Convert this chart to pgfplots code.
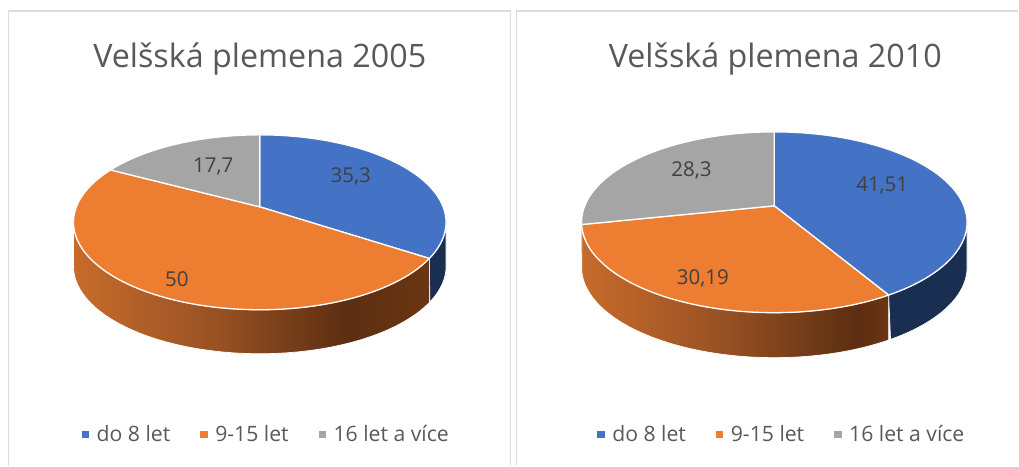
\documentclass[border=0pt]{standalone}
\usepackage{pgfplots}
\pgfplotsset{compat=1.18}
\usepackage{fontspec}
\setmainfont{Open Sans}
\definecolor{cblue}{HTML}{4472C4}
\definecolor{corange}{HTML}{ED7D31}
\definecolor{cgray}{HTML}{A5A5A5}
\definecolor{cnavy}{HTML}{1A2E52}
\definecolor{ctxt}{HTML}{595959}
\definecolor{cdark}{HTML}{404040}
\definecolor{cframe}{HTML}{DCDCDC}
\pgfdeclarehorizontalshading{wallL}{100bp}{
  rgb(0bp)=(0.78,0.42,0.17);
  rgb(25bp)=(0.78,0.42,0.17);
  rgb(45bp)=(0.60,0.32,0.14);
  rgb(63.5bp)=(0.36,0.18,0.07);
  rgb(75bp)=(0.42,0.21,0.07);
  rgb(100bp)=(0.42,0.21,0.07)}
\pgfdeclarehorizontalshading{wallR}{100bp}{
  rgb(0bp)=(0.78,0.42,0.17);
  rgb(25bp)=(0.78,0.42,0.17);
  rgb(47.5bp)=(0.60,0.32,0.14);
  rgb(70bp)=(0.36,0.18,0.07);
  rgb(75bp)=(0.42,0.21,0.07);
  rgb(100bp)=(0.42,0.21,0.07)}
% projection of a unit circle, angle clockwise from the top
\newcommand{\PX}[1]{\cx+\pa*sin(#1)/(1+\pk*cos(#1))}
\newcommand{\PY}[1]{\cy-\pb*cos(#1)/(1+\pk*cos(#1))}
\newcommand{\sector}[3]{%
  \addplot[forget plot,draw=white,line width=1.3pt,line join=round,fill=#3,domain=#1:#2,samples=80]
    ({\PX{x}},{\PY{x}}) -- (axis cs:\cx,\cy) -- cycle;}
\newcommand{\WT}[2]{((x<1)?(#1+(#2-#1)*x):(#2-(#2-#1)*(x-1)))}
\newcommand{\wall}[3]{%
  \addplot[forget plot,draw=white,line width=0.7pt,line join=round,#3,domain=0:2,samples=161]
    ({\PX{\WT{#1}{#2}}},{\PY{\WT{#1}{#2}}+((x<1)?\pd:0)}) -- cycle;}
\pgfplotsset{
  panel/.style={
    scale only axis,height=466pt,axis lines=none,
    y dir=reverse,ymin=0,ymax=466,clip=false,
    legend columns=3,
    legend image code/.code={\path[##1,draw=none] (0pt,-3.7pt) rectangle (7.4pt,3.7pt);\path[draw=none,fill=none] (0pt,0pt) -- (13pt,0pt);},
    legend style={draw=none,fill=none,font=\fontsize{21.2}{25}\selectfont,text=ctxt,
      anchor=center,inner sep=0pt,outer sep=0pt,
      /tikz/every even column/.append style={column sep=28pt}},
    legend cell align=left,
  }
}
\begin{document}
\begin{tikzpicture}
% ---------- 2005 ----------
\def\cx{260}\def\cy{207}\def\pa{183.5}\def\pb{84.8}\def\pk{0.177}\def\pd{44}
\pgfmathsetmacro{\tot}{35.3+50+17.7}
\pgfmathsetmacro{\ta}{35.3/\tot*360}
\pgfmathsetmacro{\tb}{(35.3+50)/\tot*360}
\begin{axis}[panel,width=514pt,at={(0pt,0pt)},anchor=south west,xmin=0,xmax=514,
   legend style={at={(axis cs:266.5,435)}}]
\path (rel axis cs:0,0) rectangle (rel axis cs:1,1);
\draw[cframe,line width=1.8pt] (axis cs:8.5,466) -- (axis cs:8.5,11) -- (axis cs:511,11) -- (axis cs:511,466);
\addlegendimage{fill=cblue}\addlegendentry{do 8 let}
\addlegendimage{fill=corange}\addlegendentry{9-15 let}
\addlegendimage{fill=cgray}\addlegendentry{16 let a více}
\wall{100.4}{\ta}{fill=cnavy}
\wall{\ta}{259.8}{shading=wallL}
\sector{0}{\ta}{cblue}
\sector{\ta}{\tb}{corange}
\sector{\tb}{360}{cgray}
\node[text=cdark,font=\fontsize{20.5}{24}\selectfont] at (axis cs:351,177) {35,3};
\node[text=cdark,font=\fontsize{20.5}{24}\selectfont] at (axis cs:177,279) {50};
\node[text=cdark,font=\fontsize{20.5}{24}\selectfont] at (axis cs:213.5,167) {17,7};
\node[text=ctxt,font=\fontsize{32.3}{38}\selectfont] at (axis cs:260,59.5) {Velšská plemena 2005};
\end{axis}
% ---------- 2010 ----------
\def\cx{775}\def\cy{206}\def\pa{189.7}\def\pb{87.5}\def\pk{0.182}\def\pd{45}
\pgfmathsetmacro{\tot}{41.51+30.19+28.3}
\pgfmathsetmacro{\ta}{41.51/\tot*360}
\pgfmathsetmacro{\tb}{(41.51+30.19)/\tot*360}
\begin{axis}[panel,width=505pt,at={(514pt,0pt)},anchor=south west,xmin=514,xmax=1019,
   legend style={at={(axis cs:782.5,435)}}]
\path (rel axis cs:0,0) rectangle (rel axis cs:1,1);
\draw[cframe,line width=1.8pt] (axis cs:517,466) -- (axis cs:517,11) -- (axis cs:1019,11);
\addlegendimage{fill=cblue}\addlegendentry{do 8 let}
\addlegendimage{fill=corange}\addlegendentry{9-15 let}
\addlegendimage{fill=cgray}\addlegendentry{16 let a více}
\wall{100.5}{\ta}{fill=cnavy}
\wall{\ta}{\tb}{shading=wallR}
\sector{0}{\ta}{cblue}
\sector{\ta}{\tb}{corange}
\sector{\tb}{360}{cgray}
\node[text=cdark,font=\fontsize{20.5}{24}\selectfont] at (axis cs:883,186) {41,51};
\node[text=cdark,font=\fontsize{20.5}{24}\selectfont] at (axis cs:703.5,279) {30,19};
\node[text=cdark,font=\fontsize{20.5}{24}\selectfont] at (axis cs:692,171) {28,3};
\node[text=ctxt,font=\fontsize{32.3}{38}\selectfont] at (axis cs:776,59.5) {Velšská plemena 2010};
\end{axis}
\end{tikzpicture}
\end{document}
